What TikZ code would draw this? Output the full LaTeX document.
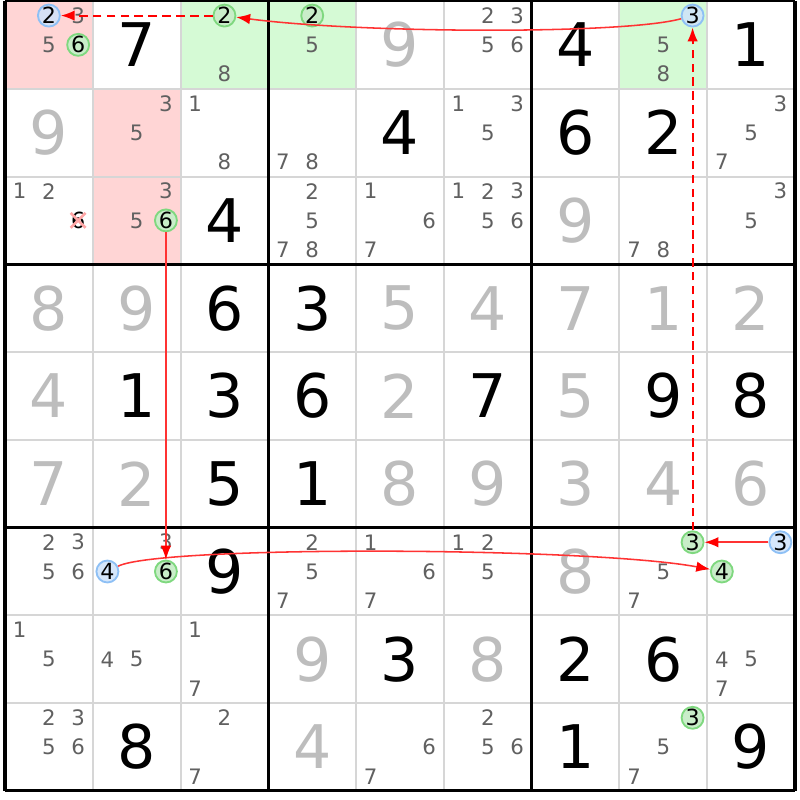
\documentclass[tikz,border=0pt]{standalone}
\usepackage{fontspec}
\setmainfont{DejaVu Sans}
\usetikzlibrary{arrows.meta}
\definecolor{pinkbg}{HTML}{FFD5D5}
\definecolor{greenbg}{HTML}{D5FAD5}
\definecolor{gridgray}{HTML}{D6D6D6}
\definecolor{candgray}{HTML}{606060}
\definecolor{solvedgray}{HTML}{BDBDBD}
\definecolor{hitgreen}{HTML}{7FD87F}
\definecolor{hitgreenfill}{HTML}{C9EDC9}
\definecolor{hitblue}{HTML}{8EC0F5}
\definecolor{hitbluefill}{HTML}{CFE3FA}
\newcommand\cands[3]{\foreach \n in {#3}{%
  \pgfmathsetmacro\cx{#2-1+(mod(\n-1,3)+0.5)/3}%
  \pgfmathsetmacro\cy{1-#1-(floor((\n-1)/3)+0.5)/3}%
  \node[cand] (k#1#2\n) at (\cx,\cy) {\n};}}
\newcommand\hit[4]{%
  \pgfmathsetmacro\cx{#2-1+(mod(#3-1,3)+0.5)/3}%
  \pgfmathsetmacro\cy{1-#1-(floor((#3-1)/3)+0.5)/3}%
  \node[#4] (m#1#2#3) at (\cx,\cy) {#3};}
\begin{document}
\begin{tikzpicture}[
    cand/.style={inner sep=0pt,text=candgray,font=\fontsize{6.9}{8}\selectfont},
    given/.style={inner sep=0pt,text=black,font=\fontsize{19.5}{22}\selectfont},
    solved/.style={given,text=solvedgray},
    hitg/.style={circle,inner sep=0pt,minimum size=0.25cm,draw=hitgreen,fill=hitgreenfill,line width=0.6pt,font=\fontsize{7.2}{8}\selectfont},
    hitb/.style={hitg,draw=hitblue,fill=hitbluefill,fill opacity=0.85,text opacity=1},
    link/.style={draw=red!80!white,line width=0.5pt,-{Latex[length=4.5pt,width=3.4pt,color=red]}},
    dashlink/.style={link,draw=red,line width=0.6pt,dash pattern=on 2.8pt off 1.7pt}]
  \useasboundingbox (-0.057,0.011) rectangle (9.057,-9.1);
  \fill[pinkbg] (0,0) rectangle (1,-1) (1,-1) rectangle (2,-3);
  \fill[greenbg] (2,0) rectangle (4,-1) (7,0) rectangle (8,-1);
  \foreach \i in {1,2,4,5,7,8} {
    \draw[gridgray,line width=0.65pt] (\i,0) -- (\i,-9);
    \draw[gridgray,line width=0.65pt] (0,-\i) -- (9,-\i);
  }
  \foreach \i in {0,3,6,9} {
    \draw[line width=1pt] (\i,0) -- (\i,-9);
    \draw[line width=1pt] (0,-\i) -- (9,-\i);
  }
  \hit{1}{1}{2}{hitb} \hit{1}{1}{6}{hitg} \hit{1}{3}{2}{hitg} \hit{1}{4}{2}{hitg}
  \hit{1}{8}{3}{hitb} \hit{3}{2}{6}{hitg} \hit{7}{2}{4}{hitb} \hit{7}{2}{6}{hitg}
  \hit{7}{8}{3}{hitg} \hit{7}{9}{3}{hitb} \hit{7}{9}{4}{hitg} \hit{9}{8}{3}{hitg}
  \cands{1}{1}{3,5} \cands{1}{3}{8} \cands{1}{4}{5} \cands{1}{6}{2,3,5,6} \cands{1}{8}{5,8}
  \cands{2}{2}{3,5} \cands{2}{3}{1,8} \cands{2}{4}{7,8} \cands{2}{6}{1,3,5} \cands{2}{9}{3,5,7}
  \cands{3}{1}{1,2} \cands{3}{2}{3,5} \cands{3}{4}{2,5,7,8} \cands{3}{5}{1,6,7}
  \cands{3}{6}{1,2,3,5,6} \cands{3}{8}{7,8} \cands{3}{9}{3,5}
  \cands{7}{1}{2,3,5,6} \cands{7}{2}{3} \cands{7}{4}{2,5,7} \cands{7}{5}{1,6,7}
  \cands{7}{6}{1,2,5} \cands{7}{8}{5,7}
  \cands{8}{1}{1,5} \cands{8}{2}{4,5} \cands{8}{3}{1,7} \cands{8}{9}{4,5,7}
  \cands{9}{1}{2,3,5,6} \cands{9}{3}{2,7} \cands{9}{5}{6,7} \cands{9}{6}{2,5,6} \cands{9}{8}{5,7}
  \node[cand,text=black,font=\fontsize{7.2}{8}\selectfont] (x316) at (0.833,-2.5) {6};
  \draw[red!35!white,line width=0.9pt] (x316.center) ++(-0.085,-0.085) -- ++(0.17,0.17) ++(-0.17,0) -- ++(0.17,-0.17);
  \foreach \r/\c/\d in {1/2/7,1/7/4,1/9/1,2/5/4,2/7/6,2/8/2,3/3/4,4/3/6,4/4/3,5/2/1,5/3/3,5/4/6,
      5/6/7,5/8/9,5/9/8,6/3/5,6/4/1,7/3/9,8/5/3,8/7/2,8/8/6,9/2/8,9/7/1,9/9/9}
    \node[given] (g\r\c) at (\c-0.5,0.5-\r) {\d};
  \foreach \r/\c/\d in {1/5/9,2/1/9,3/7/9,4/1/8,4/2/9,4/5/5,4/6/4,4/7/7,4/8/1,4/9/2,5/1/4,5/5/2,
      5/7/5,6/1/7,6/2/2,6/5/8,6/6/9,6/7/3,6/8/4,6/9/6,7/7/8,8/4/9,8/6/8,9/4/4}
    \node[solved] (g\r\c) at (\c-0.5,0.5-\r) {\d};
  \draw[dashlink] (m132) -- (m112);
  \draw[link] (m183) .. controls +(-0.8,-0.22) and +(1.5,-0.2) .. (m132);
  \draw[dashlink] (m783) -- (m183);
  \draw[link] (m793) -- (m783);
  \draw[link] (m724) .. controls +(0.6,0.3) and +(-1.5,0.28) .. (m794);
  \draw[link] (m326) -- (m726);
\end{tikzpicture}
\end{document}
